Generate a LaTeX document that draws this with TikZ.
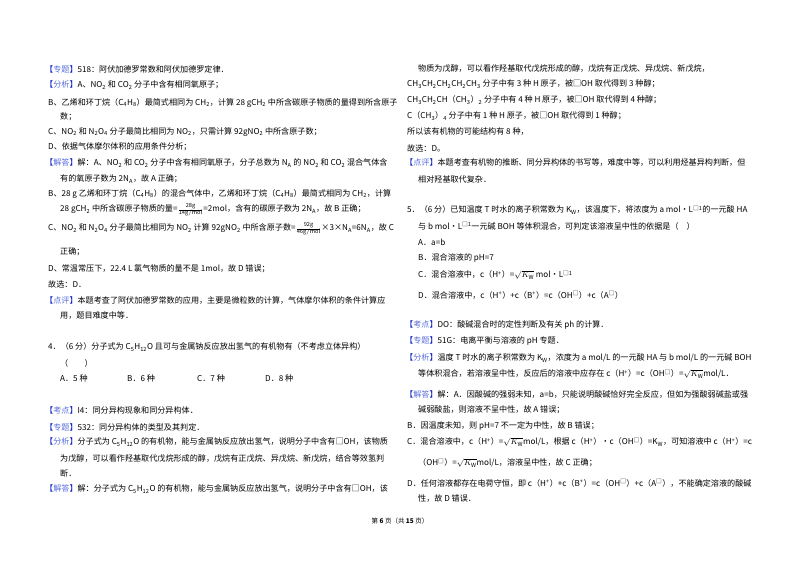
\documentclass[tikz,border=0pt]{standalone}
\usepackage{fontspec}
\setmainfont{Noto Sans CJK SC}
\usepackage{xcolor}
\definecolor{lb}{RGB}{20,40,200}
\definecolor{lw}{RGB}{90,110,220}
\newcommand\lbl[1]{\textcolor{lb}{【}\textcolor{lw}{#1}\textcolor{lb}{】}}
\newcommand\s[1]{\textsubscript{#1}}
\newcommand\su[1]{\textsuperscript{#1}}
\newcounter{ln}
\newcommand\T[3]{\stepcounter{ln}\node[txt] (t\theln) at (#1pt,-#2pt) {#3};}
\tikzset{txt/.style={anchor=west,inner sep=0pt,font=\fontsize{8.1}{10}\selectfont}}
\begin{document}
\begin{tikzpicture}
\useasboundingbox[fill=white] (0,0) rectangle (800pt,-565pt);
% left column
\T{45}{69}{\lbl{专题}518：阿伏加德罗常数和阿伏加德罗定律．}
\T{45}{85}{\lbl{分析}A、NO\s2 和 CO\s2 分子中含有相同氧原子；}
\T{48}{103}{B、乙烯和环丁烷（C\s4H\s8）最简式相同为 CH\s2，计算 28 gCH\s2 中所含碳原子物质的量得到所含原子}
\T{60}{117}{数；}
\T{48}{132}{C、NO\s2 和 N\s2O\s4 分子最简比相同为 NO\s2，只需计算 92gNO\s2 中所含原子数；}
\T{48}{147}{D、依据气体摩尔体积的应用条件分析；}
\T{45}{163}{\lbl{解答}解：A、NO\s2 和 CO\s2 分子中含有相同氧原子，分子总数为 N\s A 的 NO\s2 和 CO\s2 混合气体含}
\T{60}{179}{有的氧原子数为 2N\s A，故 A 正确；}
\T{48}{194}{B、28 g 乙烯和环丁烷（C\s4H\s8）的混合气体中，乙烯和环丁烷（C\s4H\s8）最简式相同为 CH\s2，计算}
\T{60}{210}{28 gCH\s2 中所含碳原子物质的量=$\frac{\mathrm{28g}}{\mathrm{14g/mol}}$=2mol，含有的碳原子数为 2N\s A，故 B 正确；}
\T{48}{229}{C、NO\s2 和 N\s2O\s4 分子最简比相同为 NO\s2 计算 92gNO\s2 中所含原子数=$\frac{\mathrm{92g}}{\mathrm{46g/mol}}$×3×N\s A=6N\s A，故 C}
\T{60}{252}{正确；}
\T{48}{269}{D、常温常压下，22.4 L 氯气物质的量不是 1mol，故 D 错误；}
\T{48}{284}{故选：D．}
\T{45}{300}{\lbl{点评}本题考查了阿伏加德罗常数的应用，主要是微粒数的计算，气体摩尔体积的条件计算应}
\T{60}{316}{用，题目难度中等．}
\T{48}{347}{4．（6 分）分子式为 C\s5H\s{12}O 且可与金属钠反应放出氢气的有机物有（不考虑立体异构）}
\T{60}{363}{（\qquad）}
\T{60}{378}{A．5 种}
\T{127}{378}{B．6 种}
\T{197}{378}{C．7 种}
\T{265}{378}{D．8 种}
\T{45}{410}{\lbl{考点}I4：同分异构现象和同分异构体．}
\T{45}{427}{\lbl{专题}532：同分异构体的类型及其判定．}
\T{45}{442}{\lbl{分析}分子式为 C\s5H\s{12}O 的有机物，能与金属钠反应放出氢气，说明分子中含有□OH，该物质}
\T{60}{458}{为戊醇，可以看作羟基取代戊烷形成的醇，戊烷有正戊烷、异戊烷、新戊烷，结合等效氢判}
\T{60}{473}{断．}
\T{45}{489}{\lbl{解答}解：分子式为 C\s5H\s{12}O 的有机物，能与金属钠反应放出氢气，说明分子中含有□OH，该}
% right column
\T{418}{69}{物质为戊醇，可以看作羟基取代戊烷形成的醇，戊烷有正戊烷、异戊烷、新戊烷，}
\T{407}{84}{CH\s3CH\s2CH\s2CH\s2CH\s3 分子中有 3 种 H 原子，被□OH 取代得到 3 种醇；}
\T{407}{100}{CH\s3CH\s2CH（CH\s3）\s2 分子中有 4 种 H 原子，被□OH 取代得到 4 种醇；}
\T{407}{116}{C（CH\s3）\s4 分子中有 1 种 H 原子，被□OH 取代得到 1 种醇；}
\T{407}{132}{所以该有机物的可能结构有 8 种，}
\T{407}{148}{故选：D。}
\T{405}{163}{\lbl{点评}本题考查有机物的推断、同分异构体的书写等，难度中等，可以利用烃基异构判断，但}
\T{418}{179}{相对羟基取代复杂．}
\T{407}{210}{5．（6 分）已知温度 T 时水的离子积常数为 K\s W，该温度下，将浓度为 a mol•L\su{□1}的一元酸 HA}
\T{418}{226}{与 b mol•L\su{□1}一元碱 BOH 等体积混合，可判定该溶液呈中性的依据是（\quad）}
\T{418}{242}{A．a=b}
\T{418}{258}{B．混合溶液的 pH=7}
\T{418}{275}{C．混合溶液中，c（H\su+）=$\sqrt{K_{\mathrm W}}$ mol•L\su{□1}}
\T{418}{295}{D．混合溶液中，c（H\su+）+c（B\su+）=c（OH\su□）+c（A\su□）}
\T{405}{325}{\lbl{考点}DO：酸碱混合时的定性判断及有关 ph 的计算．}
\T{405}{341}{\lbl{专题}51G：电离平衡与溶液的 pH 专题．}
\T{405}{358}{\lbl{分析}温度 T 时水的离子积常数为 K\s W，浓度为 a mol/L 的一元酸 HA 与 b mol/L 的一元碱 BOH}
\T{418}{374}{等体积混合，若溶液呈中性，反应后的溶液中应存在 c（H\su+）=c（OH\su□）=$\sqrt{K_{\mathrm W}}$mol/L．}
\T{405}{394}{\lbl{解答}解：A．因酸碱的强弱未知，a=b，只能说明酸碱恰好完全反应，但如为强酸弱碱盐或强}
\T{418}{410}{碱弱酸盐，则溶液不呈中性，故 A 错误；}
\T{407}{426}{B．因温度未知，则 pH=7 不一定为中性，故 B 错误；}
\T{407}{442}{C．混合溶液中，c（H\su+）=$\sqrt{K_{\mathrm W}}$mol/L，根据 c（H\su+）•c（OH\su□）=K\s W，可知溶液中 c（H\su+）=c}
\T{418}{463}{（OH\su□）=$\sqrt{K_{\mathrm W}}$mol/L，溶液呈中性，故 C 正确；}
\T{407}{483}{D．任何溶液都存在电荷守恒，即 c（H\su+）+c（B\su+）=c（OH\su□）+c（A\su□），不能确定溶液的酸碱}
\T{418}{499}{性，故 D 错误．}
% footer
\node[txt,anchor=center,font=\fontsize{6.5}{8}\selectfont] (foot) at (400pt,-521pt) {第 \textbf{6} 页（共 \textbf{15} 页）};
\end{tikzpicture}
\end{document}
